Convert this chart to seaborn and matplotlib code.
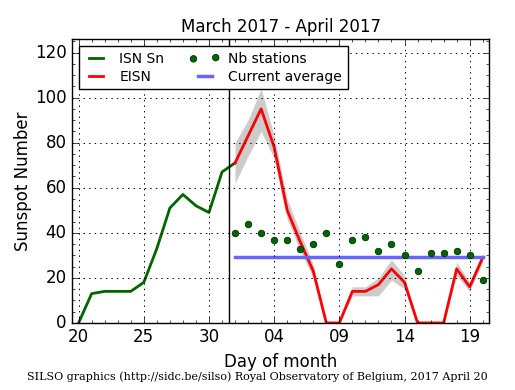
import matplotlib
matplotlib.use("Agg")
import matplotlib.pyplot as plt
import seaborn as sns
from matplotlib.ticker import MultipleLocator
from matplotlib.legend_handler import HandlerPathCollection

# day numbers: March days as-is, April 1 = 32
isn_days = [20, 21, 22, 23, 24, 25, 26, 27, 28, 29, 30, 31, 32]
isn_values = [0, 13, 14, 14, 14, 18, 33, 51, 57, 52, 49, 67, 71]

eisn_days = list(range(32, 52))
eisn_values = [71, 83, 95, 78, 50, 36, 23, 0, 0, 14, 14, 17, 24, 18, 0, 0, 0, 24, 16, 29]
eisn_lower = [62, 74, 85, 73, 46, 32, 20, 0, 0, 12, 12, 12, 19, 15, 0, 0, 0, 21, 14, 27]
eisn_upper = [80, 90, 104, 83, 55, 40, 26, 0, 0, 16, 16, 20, 28, 21, 0, 0, 0, 27, 18, 31]

nb_stations = [40, 44, 40, 37, 37, 33, 35, 40, 26, 37, 38, 32, 35, 30, 23, 31, 31, 32, 30, 19]
current_average = 29.2

tick_days = [20, 25, 30, 35, 40, 45, 50]
tick_labels = ["20", "25", "30", "04", "09", "14", "19"]

plt.style.use("classic")
plt.rcParams["figure.facecolor"] = "white"
plt.rcParams["savefig.facecolor"] = "white"

fig = plt.figure(figsize=(5.15, 3.9), dpi=100)
ax = fig.add_axes([0.140, 0.172, 0.810, 0.728])

ax.fill_between(eisn_days, eisn_lower, eisn_upper, color="0.8", linewidth=0)
sns.lineplot(x=isn_days, y=isn_values, color="#006400", linewidth=2, label="ISN Sn", ax=ax)
sns.lineplot(x=eisn_days, y=eisn_values, color="red", linewidth=2, label="EISN", ax=ax)
avg_days = [eisn_days[0], eisn_days[-1]]
sns.lineplot(x=avg_days, y=[current_average] * 2, color="#6666ff", linewidth=2.5,
             label="Current average", ax=ax)
sns.scatterplot(x=eisn_days, y=nb_stations, color="#006400", edgecolor="#003300",
                s=22, linewidth=0.6, label="Nb stations", ax=ax, zorder=3)
ax.axvline(31.5, color="black", linewidth=1)

ax.set_xlim(19.5, 51.5)
ax.set_ylim(0, 126)
ax.set_xticks(tick_days)
ax.set_xticklabels(tick_labels)
ax.xaxis.set_minor_locator(MultipleLocator(1))
ax.yaxis.set_minor_locator(MultipleLocator(5))
ax.grid(True, which="major", color="black", linestyle=":", linewidth=0.7)
ax.tick_params(labelsize=12)

ax.set_title("March 2017 - April 2017", fontsize=12)
ax.set_xlabel("Day of month", fontsize=12)
ax.set_ylabel("Sunspot Number", fontsize=12, labelpad=2)

handles, labels = ax.get_legend_handles_labels()
order = [0, 1, 3, 2]
ax.legend([handles[i] for i in order], [labels[i] for i in order],
          loc="upper left", ncol=2, fontsize=10,
          handler_map={handles[3]: HandlerPathCollection(numpoints=2, marker_pad=0.0)},
          frameon=True, fancybox=False, borderaxespad=0.5,
          columnspacing=2.1, handlelength=1.6, handletextpad=0.9,
          labelspacing=0.3, borderpad=0.4)

fig.text(0.5, 0.02, "SILSO graphics (http://sidc.be/silso) Royal Observatory of Belgium, 2017 April 20",
         ha="center", va="bottom", fontsize=8, family="DejaVu Serif")

fig.savefig("out.png", dpi=100)
